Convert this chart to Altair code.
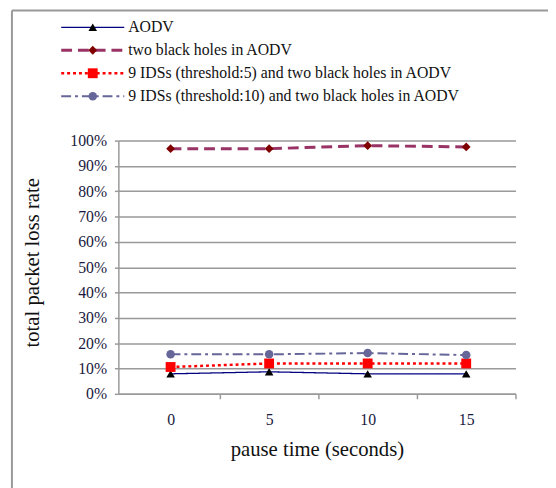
import altair as alt
import pandas as pd

pause = [0, 5, 10, 15]
series = [
    "AODV",
    "two black holes in AODV",
    "9 IDSs (threshold:5) and two black holes in AODV",
    "9 IDSs (threshold:10) and two black holes in AODV",
]
aodv = [0.079, 0.087, 0.079, 0.079]
black_holes = [0.968, 0.968, 0.980, 0.975]
ids5 = [0.106, 0.12, 0.12, 0.12]
ids10 = [0.156, 0.156, 0.161, 0.153]
values = [aodv, black_holes, ids5, ids10]

line_colors = ["#000080", "#993366", "#FF0000", "#666699"]
marker_colors = ["#000000", "#800000", "#FF0000", "#666699"]
shapes = ["triangle-up", "diamond", "square", "circle"]
sizes = [75, 80, 100, 75]
dashes = [[1, 0], [11, 6], [3, 3], [10, 4, 3, 4]]
widths = [1.3, 3, 2.5, 2]

FONT = "Liberation Serif"
W, H = 403, 257

rows = []
for i, name in enumerate(series):
    for p, v in zip(pause, values[i]):
        rows.append({"pause": p, "rate": v, "series": name, "idx": i})
data = pd.DataFrame(rows)

xscale = alt.Scale(domain=[-2.65, 17.5], nice=False, zero=False)
yscale = alt.Scale(domain=[0, 1], nice=False)

xenc = alt.X("pause:Q", scale=xscale, title="pause time (seconds)",
             axis=alt.Axis(values=[2.5, 7.5, 12.5, 17.5],
                           labelExpr="datum.value - 2.5",
                           labelOffset=-50, labelOverlap=False,
                           labelBound=False, labelFlush=False,
                           grid=False, tickSize=5, tickColor="#999999",
                           domainColor="#999999", domainWidth=1.5,
                           tickWidth=1.5, labelPadding=13,
                           titleY=57, titleBaseline="middle"))
yenc = alt.Y("rate:Q", scale=yscale, title="total packet loss rate",
             axis=alt.Axis(values=[k / 10 for k in range(11)], format=".0%",
                           grid=True, gridColor="#999999", gridWidth=1.5,
                           tickSize=4, tickColor="#999999", tickWidth=1.5,
                           domainColor="#999999", domainWidth=1.5,
                           labelPadding=8, titleX=-87, titleY=H / 2 - 5,
                           titleAlign="center", titleBaseline="middle",
                           titleAngle=-90))

base = alt.Chart(data).encode(x=xenc, y=yenc)
main_layers = []
for i, name in enumerate(series):
    b = base.transform_filter(alt.datum.idx == i)
    main_layers.append(b.mark_line(color=line_colors[i], strokeDash=dashes[i],
                                   strokeWidth=widths[i]))
    main_layers.append(b.mark_point(shape=shapes[i], filled=True, opacity=1,
                                    color=marker_colors[i], size=sizes[i]))
main = alt.layer(*main_layers)

# legend drawn through its own scales
seg_rows = []
for i, name in enumerate(series):
    seg_rows.append({"series": name, "idx": i, "lx": 0.0, "kind": "seg"})
    seg_rows.append({"series": name, "idx": i, "lx": 1.0, "kind": "seg"})
    seg_rows.append({"series": name, "idx": i, "lx": 0.5, "kind": "mark"})
    seg_rows.append({"series": name, "idx": i, "lx": 1.0, "kind": "text"})
leg = pd.DataFrame(seg_rows)

lx = alt.Scale(domain=[0, 1], range=[-58, 6], nice=False, zero=False)
ly = alt.Scale(domain=[0, 3], range=[-115, -45], nice=False, zero=False)
lbase = alt.Chart(leg).encode(
    x=alt.X("lx:Q", scale=lx, axis=None),
    y=alt.Y("idx:Q", scale=ly, axis=None))

leg_layers = []
for i, name in enumerate(series):
    leg_layers.append(
        lbase.transform_filter((alt.datum.idx == i) & (alt.datum.kind == "seg"))
        .mark_line(color=line_colors[i], strokeDash=dashes[i], strokeWidth=widths[i]))
    leg_layers.append(
        lbase.transform_filter((alt.datum.idx == i) & (alt.datum.kind == "mark"))
        .mark_point(shape=shapes[i], filled=True, opacity=1,
                    color=marker_colors[i], size=sizes[i]))
leg_layers.append(
    lbase.transform_filter(alt.datum.kind == "text")
    .mark_text(align="left", baseline="middle", dx=4, font=FONT, fontSize=16,
               color="#111111")
    .encode(text="series:N"))

one = pd.DataFrame({"a": [0]})
border_left = alt.Chart(one).mark_rule(color="#999999", strokeWidth=2).encode(
    x=alt.value(-108), y=alt.value(-132), y2=alt.value(400))
border_top = alt.Chart(one).mark_rule(color="#999999", strokeWidth=2).encode(
    x=alt.value(-108), x2=alt.value(500), y=alt.value(-132))

legend = alt.layer(*leg_layers)

chart = alt.layer(main, legend, border_left, border_top).resolve_scale(
    x="independent", y="independent"
).properties(
    width=W, height=H,
    background="white",
    autosize=alt.AutoSizeParams(type="none"),
    padding={"left": 112, "top": 131, "right": 33, "bottom": 92},
).configure_view(strokeWidth=0, stroke="transparent").configure_axis(
    labelFont=FONT, titleFont=FONT, labelFontSize=16, titleFontSize=21,
    labelColor="#1a1a40", titleColor="#111111", titleFontWeight="normal"
)

chart.save("out.html", embed_options={"renderer": "svg", "actions": False})
